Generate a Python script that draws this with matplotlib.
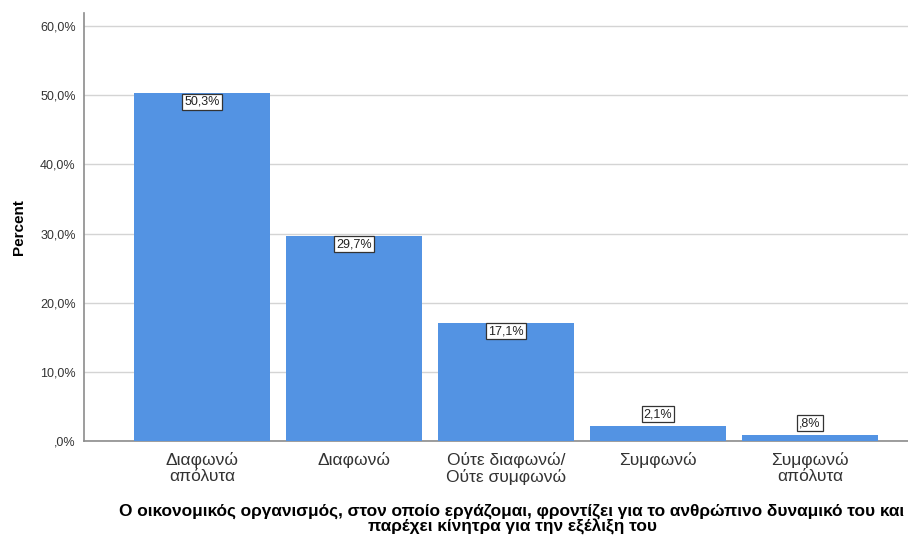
import matplotlib.pyplot as plt
import numpy as np

plt.rcParams['font.family'] = ['Liberation Sans', 'DejaVu Sans']

categories = ["Διαφωνώ\nαπόλυτα", "Διαφωνώ", "Ούτε διαφωνώ/\nΟύτε συμφωνώ", "Συμφωνώ", "Συμφωνώ\nαπόλυτα"]
percents = [50.3, 29.7, 17.1, 2.1, 0.8]
value_labels = ["50,3%", "29,7%", "17,1%", "2,1%", ",8%"]
yticks = [0, 10, 20, 30, 40, 50, 60]
ytick_labels = [",0%", "10,0%", "20,0%", "30,0%", "40,0%", "50,0%", "60,0%"]
xlabel = ("Ο οικονομικός οργανισμός, στον οποίο εργάζομαι, φροντίζει για το ανθρώπινο δυναμικό του και\n"
          "παρέχει κίνητρα για την εξέλιξη του")

fig = plt.figure(figsize=(9.08, 5.38), dpi=100)
ax = fig.add_axes([84 / 908, 1 - 441 / 538, 1 - 84 / 908, (441 - 13) / 538])

x = np.arange(len(categories))
ax.bar(x, percents, width=0.895, color="#5393e3", zorder=3)

for xi, v, lab in zip(x, percents, value_labels):
    if v > 5:
        ax.text(xi, v - 0.35, lab, ha="center", va="top", fontsize=9, color="#222222", zorder=4,
                bbox=dict(boxstyle="square,pad=0.15", fc="white", ec="#333333", lw=0.9))
    else:
        ax.text(xi, v + 0.9, lab, ha="center", va="bottom", fontsize=9, color="#222222", zorder=4,
                bbox=dict(boxstyle="square,pad=0.15", fc="white", ec="#333333", lw=0.9))

ax.set_xlim(-0.776, 4.645)
ax.set_ylim(0, 61.9)
ax.set_yticks(yticks)
ax.set_yticklabels(ytick_labels, fontsize=9, color="#333333")
ax.set_xticks(x)
ax.set_xticklabels(categories, fontsize=12.5, color="#333333", linespacing=1.1)
ax.tick_params(axis="both", length=0)
ax.tick_params(axis="x", pad=8)
ax.tick_params(axis="y", pad=6)

ax.yaxis.grid(True, color="#d4d4d4", lw=1.0, zorder=0)
ax.set_axisbelow(True)
for side in ["top", "right"]:
    ax.spines[side].set_visible(False)
for side in ["left", "bottom"]:
    ax.spines[side].set_color("#8c8c8c")
    ax.spines[side].set_linewidth(1.2)

ax.set_ylabel("Percent", fontsize=11, fontweight="bold", color="black", labelpad=10)
fig.text(512 / 908, 1 - 519 / 538, xlabel, ha="center", va="center", fontsize=12.4,
         fontweight="bold", multialignment="center", linespacing=1.0)

fig.savefig("out.png", dpi=100)
